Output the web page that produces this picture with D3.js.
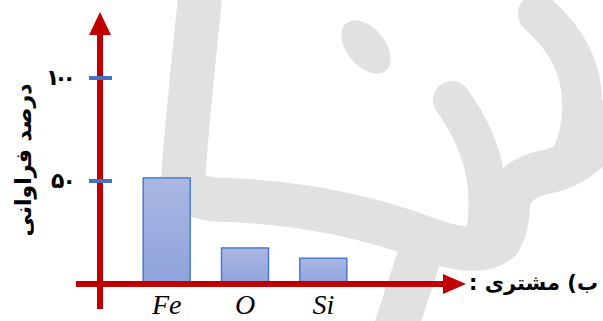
<!DOCTYPE html>
<html>
<head>
<meta charset="utf-8">
<script src="https://cdn.jsdelivr.net/npm/d3@7"></script>
<style>
  html, body { margin: 0; padding: 0; background: #fff; }
  svg { display: block; }
</style>
</head>
<body>
<div id="chart"></div>
<script>
// data
const elements = ["Fe", "O", "Si"];
const abundance = [51.5, 17.5, 12.5];
const yTicks = [50, 100];
const yTickLabels = ["۵۰", "۱۰۰"];
const yTitle = "درصد فراوانی";
const xTitle = "ب) مشتری :";

const width = 603, height = 321;
const red = "#C00000";

const svg = d3.select("#chart").append("svg")
    .attr("width", width)
    .attr("height", height);

// watermark in the background
const wmColor = "#e1e1e1";
const wm = svg.append("g")
    .attr("fill", "none")
    .attr("stroke", wmColor)
    .attr("stroke-linecap", "round")
    .attr("stroke-linejoin", "round");

// left band turning into the long sweep
wm.append("path").attr("stroke-width", 44)
    .attr("d", "M203,-30 Q188,110 183,180 Q185,200 230,200 Q340,205 430,240 Q480,258 500,240 Q508,225 508,205 Q510,180 545,172 Q585,165 612,120");
// lower diagonal band
wm.append("path").attr("stroke-width", 44)
    .attr("d", "M422,248 L392,340");
// left arm of the W
wm.append("path").attr("stroke-width", 38)
    .attr("d", "M452,100 Q484,145 487,190 Q489,225 482,240");
// right arm of the W
wm.append("path").attr("stroke-width", 40)
    .attr("d", "M538,14 Q585,55 582,110 Q580,145 568,160");
// drop
wm.append("ellipse")
    .attr("cx", 366).attr("cy", 47).attr("rx", 19).attr("ry", 31)
    .attr("transform", "rotate(-40,366,47)")
    .attr("fill", wmColor).attr("stroke", "none");

// scales
const x = d3.scaleBand()
    .domain(elements)
    .range([127.5, 362.5])
    .paddingInner(0.4)
    .paddingOuter(0.2);

const y = d3.scaleLinear()
    .domain([0, 100])
    .range([284, 78]);

// bar gradient
const grad = svg.append("defs").append("linearGradient")
    .attr("id", "barGrad")
    .attr("x1", 0).attr("y1", 0).attr("x2", 0).attr("y2", 1);
grad.append("stop").attr("offset", "0%").attr("stop-color", "#aab7e2");
grad.append("stop").attr("offset", "100%").attr("stop-color", "#8ea3dc");

svg.append("g")
    .selectAll("rect")
    .data(elements)
    .join("rect")
    .attr("x", d => x(d))
    .attr("y", (d, i) => y(abundance[i]))
    .attr("width", x.bandwidth())
    .attr("height", (d, i) => y(0) - y(abundance[i]))
    .attr("fill", "url(#barGrad)")
    .attr("stroke", "#4a7bd0")
    .attr("stroke-width", 1.5);

// axes (red arrows)
const axisX = 100;
svg.append("line")
    .attr("x1", axisX).attr("x2", axisX)
    .attr("y1", 309).attr("y2", 30)
    .attr("stroke", red).attr("stroke-width", 6);
svg.append("path")
    .attr("d", `M${axisX},12 L${axisX - 11},35 L${axisX + 11},35 Z`)
    .attr("fill", red);

svg.append("line")
    .attr("x1", 76).attr("x2", 448)
    .attr("y1", y(0)).attr("y2", y(0))
    .attr("stroke", red).attr("stroke-width", 6);
svg.append("path")
    .attr("d", `M466,${y(0)} L443,${y(0) - 10} L443,${y(0) + 10} Z`)
    .attr("fill", red);

// y ticks
svg.append("g")
    .selectAll("line")
    .data(yTicks)
    .join("line")
    .attr("x1", 89).attr("x2", 112)
    .attr("y1", d => y(d)).attr("y2", d => y(d))
    .attr("stroke", "#4472C4").attr("stroke-width", 4);

svg.append("g")
    .selectAll("text")
    .data(yTicks)
    .join("text")
    .attr("x", 76)
    .attr("y", d => y(d))
    .attr("dy", "0.3em")
    .attr("text-anchor", "end")
    .attr("font-family", "DejaVu Sans")
    .attr("font-weight", "bold")
    .attr("font-size", 22)
    .attr("textLength", d => d === 100 ? 30 : 25)
    .attr("lengthAdjust", "spacing")
    .text((d, i) => yTickLabels[i]);

// category labels
svg.append("g")
    .selectAll("text")
    .data(elements)
    .join("text")
    .attr("x", d => x(d) + x.bandwidth() / 2)
    .attr("y", 314)
    .attr("text-anchor", "middle")
    .attr("font-family", "Liberation Serif")
    .attr("font-style", "italic")
    .attr("font-size", 28)
    .text(d => d);

// titles
svg.append("text")
    .attr("transform", "translate(23,160) rotate(-90)")
    .attr("text-anchor", "middle")
    .attr("dy", "0.35em")
    .attr("font-family", "DejaVu Sans")
    .attr("font-weight", "bold")
    .attr("font-size", 22)
    .text(yTitle);

svg.append("text")
    .attr("x", 598)
    .attr("y", 283)
    .attr("dy", "0.35em")
    .attr("direction", "rtl")
    .attr("text-anchor", "start")
    .attr("font-family", "DejaVu Sans")
    .attr("font-weight", "bold")
    .attr("font-size", 21)
    .text(xTitle);
</script>
</body>
</html>
